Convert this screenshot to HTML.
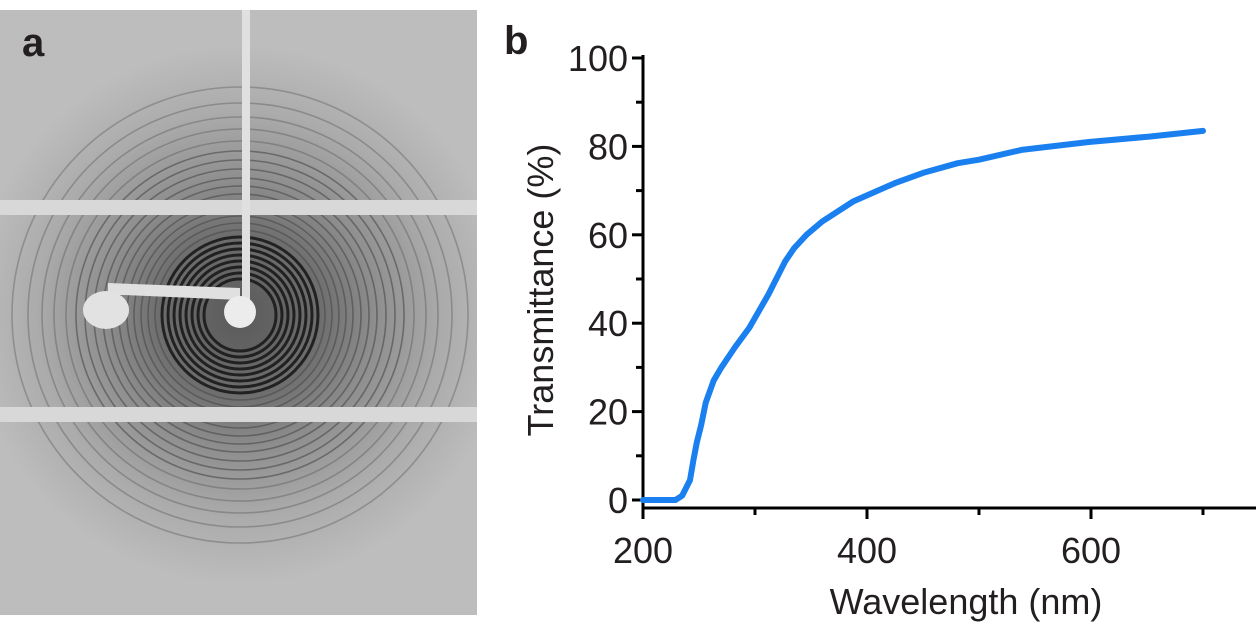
<!DOCTYPE html>
<html><head><meta charset="utf-8"><style>
body{margin:0;background:#fff;width:1259px;height:628px;overflow:hidden;font-family:"Liberation Sans",Arial,sans-serif}
svg{position:absolute;left:0;top:0}
</style></head><body>
<svg id="s" width="1259" height="628" viewBox="0 0 1259 628">
<defs>
<radialGradient id="halo" cx="240" cy="315" r="270" gradientUnits="userSpaceOnUse">
<stop offset="0" stop-color="#5a5a5a"/><stop offset="0.3" stop-color="#6e6e6e"/><stop offset="0.5" stop-color="#8e8e8e"/><stop offset="0.75" stop-color="#ababab"/><stop offset="1" stop-color="#bdbdbd"/>
</radialGradient>
<clipPath id="pc"><rect x="0" y="10" width="477" height="605"/></clipPath>
</defs>
<g clip-path="url(#pc)">
<rect x="0" y="10" width="477" height="605" fill="#bdbdbd"/>
<rect x="0" y="10" width="477" height="605" fill="url(#halo)"/>
<g id="rings" fill="none"></g>
<rect x="0" y="200" width="477" height="15" fill="#d8d8d8"/>
<rect x="0" y="407" width="477" height="15" fill="#d8d8d8"/>
<rect x="242" y="10" width="8" height="290" fill="#e0e0e0"/>
<polygon points="108,283 240,288 240,300 125,295 108,295" fill="#e0e0e0"/>
<ellipse cx="106" cy="310" rx="23" ry="19" fill="#e2e2e2"/>
<circle cx="240" cy="312" r="16" fill="#ececec"/>
</g>
<text x="22" y="56" font-size="40" font-weight="bold" fill="#231f20">a</text>
<text x="504" y="54" font-size="40" font-weight="bold" fill="#231f20">b</text>
<g id="chart"></g>
</svg>
<script>
const wavelengths=[200,229,235,242,245,248,252,256,263,270,282,295,312,327,335,346,360,388,425,450,481,500,538,598,651,700];
const transmittance=[0,0,1,4.5,9,13,17,22,27,30,34.5,39,46.5,54,57,60,63,67.6,71.7,74,76.2,77,79.2,81,82.2,83.5];
const xTicks=[200,400,600];
const yTicks=[0,20,40,60,80,100];
const NS='http://www.w3.org/2000/svg';
const X=v=>643+(v-200)*1.12;
const Y=v=>500-v*4.42;
function mk(t,a,p){const e=document.createElementNS(NS,t);for(const k in a)e.setAttribute(k,a[k]);p.appendChild(e);return e;}
const rg=document.getElementById('rings');
const ringR=[36,42,48,54,60,66,72,78,85,92,99,106,113,121,129,137,146,155,164,174,186,198,212,228];
ringR.forEach((r,i)=>{const dark=r<=78;
const el=mk('circle',{cx:240,cy:315,r:r,stroke:dark?'#1a1a1a':'#4a4a4a','stroke-width':dark?3:1.6,opacity:dark?0.9:(r>170?0.35:0.6)},rg);

});
const g=document.getElementById('chart');
const ax=mk('path',{d:`M643,55 V508 H1256`,stroke:'#000','stroke-width':3,fill:'none'},g);


for(let v=0;v<=100;v+=10){const t=mk('line',{x1:643,x2:v%20?636:632,y1:Y(v),y2:Y(v),stroke:'#000','stroke-width':3},g);

}
for(let v=200;v<=700;v+=100){const t=mk('line',{x1:X(v),x2:X(v),y1:508,y2:v%200?515:519,stroke:'#000','stroke-width':3},g);

}
yTicks.forEach(v=>{const t=mk('text',{x:628,y:Y(v)+13,'font-size':36,'text-anchor':'end',fill:'#231f20'},g);t.textContent=v;

});
xTicks.forEach(v=>{const t=mk('text',{x:X(v),y:563,'font-size':36,'text-anchor':'middle',fill:'#231f20'},g);t.textContent=v;

});
const xt=mk('text',{x:966,y:614,'font-size':36,'text-anchor':'middle',fill:'#231f20'},g);xt.textContent='Wavelength (nm)';


const yt=mk('text',{x:0,y:0,'font-size':36,'text-anchor':'middle',fill:'#231f20',transform:'translate(553,290) rotate(-90)'},g);yt.textContent='Transmittance (%)';


let d='';wavelengths.forEach((w,i)=>{d+=(i?' L':'M')+X(w).toFixed(1)+','+Y(transmittance[i]).toFixed(1);});
const ln=mk('path',{d:d,stroke:'#1a80f0','stroke-width':6,fill:'none','stroke-linejoin':'round','stroke-linecap':'round'},g);


</script>
</body></html>
